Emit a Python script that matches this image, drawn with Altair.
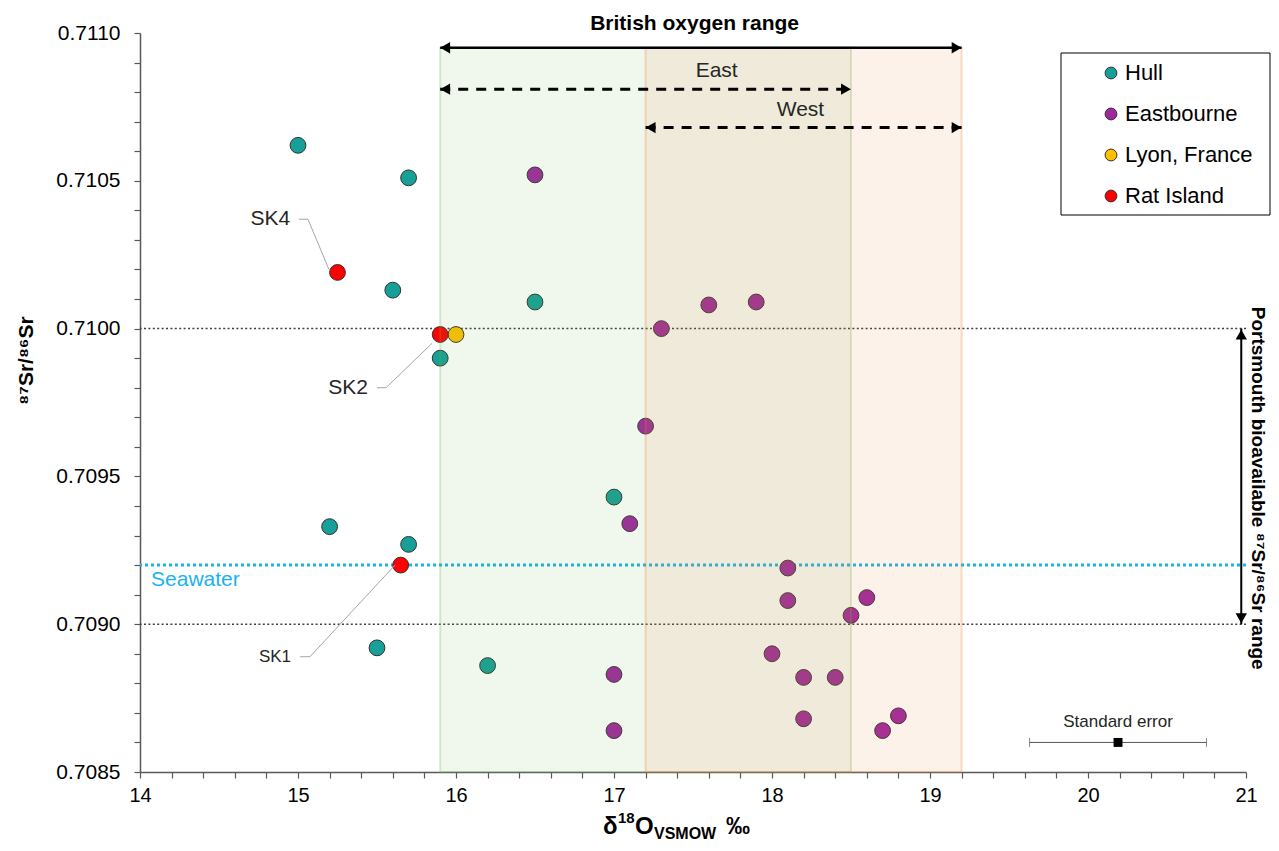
import altair as alt
import pandas as pd

FONT = "Liberation Sans"

# ---------------- data ----------------
groups = ["Hull", "Eastbourne", "Lyon, France", "Rat Island"]
colors = ["#17A097", "#A0279F", "#FFC000", "#FF0000"]

hull_x = [15.0, 15.7, 15.6, 16.5, 15.9, 15.2, 15.7, 15.5, 16.2, 17.0]
hull_y = [0.71062, 0.71051, 0.71013, 0.71009, 0.70990, 0.70933, 0.70927, 0.70892, 0.70886, 0.70943]

east_x = [16.5, 17.6, 17.9, 17.3, 17.2, 17.1, 18.1, 18.1, 18.6, 18.5, 18.0, 17.0, 18.2, 18.4, 18.2, 18.8, 18.7, 17.0]
east_y = [0.71052, 0.71008, 0.71009, 0.71000, 0.70967, 0.70934, 0.70919, 0.70908, 0.70909, 0.70903,
          0.70890, 0.70883, 0.70882, 0.70882, 0.70868, 0.70869, 0.70864, 0.70864]

lyon_x = [16.0]
lyon_y = [0.70998]

rat_x = [15.25, 15.9, 15.65]
rat_y = [0.71019, 0.70998, 0.70920]

# ranges
east_range = [15.9, 18.5]
west_range = [17.2, 19.2]
british_range = [15.9, 19.2]
band_top = 0.71095
portsmouth_range = [0.7090, 0.7100]
portsmouth_x = 20.97
seawater = 0.7092

# arrows (y positions)
british_y = 0.71095
east_y_arrow = 0.71081
west_y_arrow = 0.71068

# standard error
se_x = 20.19
se_half = 0.56
se_y = 0.70860

# annotation labels
sk_labels = ["SK4", "SK2", "SK1"]
sk_label_x = [14.95, 15.443, 14.956]
sk_label_y = [0.71037, 0.70980, 0.70889]
sk_leader_x = [[15.006, 15.063, 15.196], [15.50, 15.557, 15.848], [15.013, 15.076, 15.614]]
sk_leader_y = [[0.71037, 0.71037, 0.71020], [0.70980, 0.70980, 0.70995], [0.70889, 0.70889, 0.70920]]

xtick_vals = [round(14 + 0.2 * i, 1) for i in range(36)]
ytick_vals = [round(0.7085 + 0.0001 * i, 4) for i in range(26)]

# ---------------- chart ----------------
W, H = 1106, 739
xscale = alt.Scale(domain=[14, 21], nice=False, zero=False)
yscale = alt.Scale(domain=[0.7085, 0.7110], nice=False, zero=False)

x_axis = alt.Axis(
    values=xtick_vals,
    labelExpr="abs(datum.value - round(datum.value)) < 0.001 ? format(datum.value, 'd') : ''",
    title=None, grid=False, domainColor="#595959", domainWidth=1.5, tickColor="#595959",
    tickWidth=1.2, tickSize=6, labelFontSize=20, labelFont=FONT, labelColor="#000000",
    labelPadding=7, labelFlush=False, labelOverlap=False)
y_axis = alt.Axis(
    values=ytick_vals,
    labelExpr="abs(datum.value * 2000 - round(datum.value * 2000)) < 0.01 ? format(datum.value, '.4f') : ''",
    title="⁸⁷Sr/⁸⁶Sr", titleFont=FONT, titleFontSize=21, titleFontWeight="bold", titleColor="#000000",
    titlePadding=19, titleY=327, grid=False, domainColor="#595959", domainWidth=1.5, tickColor="#595959",
    tickWidth=1.2, tickSize=6, labelFontSize=21, labelFont=FONT, labelColor="#000000",
    labelPadding=14, labelFlush=False, labelOverlap=False)


def X(f="x"):
    return alt.X(f"{f}:Q", scale=xscale, axis=x_axis)


def Y(f="y"):
    return alt.Y(f"{f}:Q", scale=yscale, axis=y_axis)


rows = []
for g, gx, gy in zip(groups, [hull_x, east_x, lyon_x, rat_x], [hull_y, east_y, lyon_y, rat_y]):
    for a, b in zip(gx, gy):
        rows.append({"x": a, "y": b, "site": g})
pts = pd.DataFrame(rows)

one = alt.Data(values=[{}])

# reference lines
port_lines = alt.Chart(pd.DataFrame({"y": portsmouth_range})).mark_rule(
    color="#404040", strokeDash=[2, 2.4], strokeWidth=1.5).encode(y=Y())
sea_line = alt.Chart(pd.DataFrame({"y": [seawater]})).mark_rule(
    color="#1AB2F0", strokeDash=[3, 3], strokeWidth=3).encode(y=Y())

# points
points = alt.Chart(pts).mark_circle(size=250, opacity=1, stroke="#333333", strokeWidth=1).encode(
    x=X(), y=Y(),
    color=alt.Color("site:N", scale=alt.Scale(domain=groups, range=colors), legend=alt.Legend(
        title=None, orient="none", legendX=960, legendY=29, symbolType="circle", symbolSize=140,
        symbolStrokeColor="#333333", symbolStrokeWidth=1, symbolOpacity=1, labelFontSize=22,
        labelFont=FONT, labelColor="#000000", rowPadding=19, labelOffset=3, padding=0)),
)

# shaded oxygen bands (drawn over points, translucent)
band_east = alt.Chart(pd.DataFrame({"x": [east_range[0]], "x2": [east_range[1]],
                                    "y": [0.7085], "y2": [band_top]})).mark_rect(
    fill="#70AD47", fillOpacity=0.1, stroke="#70AD47", strokeOpacity=0.25, strokeWidth=2).encode(
    x=X(), x2="x2:Q", y=Y(), y2="y2:Q")
band_west = alt.Chart(pd.DataFrame({"x": [west_range[0]], "x2": [west_range[1]],
                                    "y": [0.7085], "y2": [band_top]})).mark_rect(
    fill="#ED7D31", fillOpacity=0.1, stroke="#ED7D31", strokeOpacity=0.25, strokeWidth=2).encode(
    x=X(), x2="x2:Q", y=Y(), y2="y2:Q")

# horizontal arrows
solid_df = pd.DataFrame({"x": [british_range[0]], "x2": [british_range[1]], "y": [british_y]})
dash_df = pd.DataFrame({"x": [east_range[0], west_range[0]], "x2": [east_range[1], west_range[1]],
                        "y": [east_y_arrow, west_y_arrow]})
solid_line = alt.Chart(solid_df).mark_rule(color="black", strokeWidth=2.5).encode(x=X(), x2="x2:Q", y=Y())
dash_line = alt.Chart(dash_df).mark_rule(color="black", strokeWidth=3, strokeDash=[10, 8]).encode(
    x=X(), x2="x2:Q", y=Y())
heads_df = pd.concat([solid_df, dash_df], ignore_index=True)
left_heads = alt.Chart(heads_df).mark_point(shape="triangle-left", filled=True, color="black",
                                            opacity=1, size=130, xOffset=5).encode(x=X(), y=Y())
right_heads = alt.Chart(heads_df).mark_point(shape="triangle-right", filled=True, color="black",
                                             opacity=1, size=130, xOffset=-5).encode(x=X("x2"), y=Y())

# vertical Portsmouth arrow
port_df = pd.DataFrame({"x": [portsmouth_x], "y": [portsmouth_range[0]], "y2": [portsmouth_range[1]]})
port_line = alt.Chart(port_df).mark_rule(color="black", strokeWidth=2).encode(x=X(), y=Y(), y2="y2:Q")
port_up = alt.Chart(port_df).mark_point(shape="triangle-up", filled=True, color="black", opacity=1,
                                        size=130, yOffset=6).encode(x=X(), y=Y("y2"))
port_down = alt.Chart(port_df).mark_point(shape="triangle-down", filled=True, color="black", opacity=1,
                                          size=130, yOffset=-6).encode(x=X(), y=Y())

# standard error marker
se_df = pd.DataFrame({"x": [se_x], "lo": [se_x - se_half], "hi": [se_x + se_half], "y": [se_y]})
se_bar = alt.Chart(se_df).mark_rule(color="#595959", strokeWidth=1).encode(x=X("lo"), x2="hi:Q", y=Y())
se_caps = alt.Chart(pd.DataFrame({"x": [se_x - se_half, se_x + se_half], "y": [se_y, se_y]})).mark_tick(
    orient="vertical", color="#595959", size=9, thickness=1).encode(x=X(), y=Y())
se_sq = alt.Chart(se_df).mark_square(color="black", size=80, opacity=1).encode(x=X(), y=Y())

# leader lines
lead_rows = []
for lab, lx, ly in zip(sk_labels, sk_leader_x, sk_leader_y):
    for i, (a, b) in enumerate(zip(lx, ly)):
        lead_rows.append({"lab": lab, "x": a, "y": b, "o": i})
leaders = alt.Chart(pd.DataFrame(lead_rows)).mark_line(color="#A6A6A6", strokeWidth=1).encode(
    x=X(), y=Y(), detail="lab:N", order="o:Q")


def text_at(t, x, y, **kw):
    return alt.Chart(alt.Data(values=[{"x": x, "y": y, "t": t}])).mark_text(font=FONT, **kw).encode(
        x=X(), y=Y(), text="t:N")


texts = [
    text_at("British oxygen range", 17.51, 0.71103, fontSize=21, fontWeight="bold", color="black"),
    text_at("East", 17.65, 0.71087, fontSize=21, color="#262626"),
    text_at("West", 18.18, 0.71074, fontSize=21, color="#262626"),
    text_at("Seawater", 14.07, 0.70915, fontSize=21, color="#1AB2F0", align="left"),
    text_at("Standard error", se_x, 0.70867, fontSize=17, color="#262626"),
    text_at(sk_labels[0], sk_label_x[0], sk_label_y[0], fontSize=21, color="#262626", align="right"),
    text_at(sk_labels[1], sk_label_x[1], sk_label_y[1], fontSize=21, color="#262626", align="right"),
    text_at(sk_labels[2], sk_label_x[2], sk_label_y[2], fontSize=17, color="#262626", align="right"),
    text_at("Portsmouth bioavailable ⁸⁷Sr/⁸⁶Sr range", 21.075, 0.70946, fontSize=19,
            fontWeight="bold", color="black", angle=90),
]


# x-axis title pieces (δ18O with subscript VSMOW)
def piece(t, px, py, size):
    return alt.Chart(one).mark_text(font=FONT, fontSize=size, fontWeight="bold", color="black",
                                    align="left", baseline="alphabetic").encode(
        x=alt.value(px), y=alt.value(py), text=alt.value(t))


xtitle = [
    piece("δ", 463, 801, 24),
    piece("18", 478, 790, 15),
    piece("O", 495, 801, 24),
    piece("VSMOW", 514, 806, 16),
    piece("‰", 586, 801, 24),
]

legend_box = alt.Chart(one).mark_rect(fill="white", stroke="black", strokeWidth=1).encode(
    x=alt.value(921), x2=alt.value(1130), y=alt.value(20), y2=alt.value(182))

chart = alt.layer(
    legend_box, port_lines, sea_line, points, band_east, band_west,
    solid_line, dash_line, left_heads, right_heads,
    port_line, port_up, port_down, se_bar, se_caps, se_sq, leaders,
    *texts, *xtitle
).properties(
    width=W, height=H,
    autosize=alt.AutoSizeParams(type="none"),
    padding={"left": 132, "top": 25, "right": 25, "bottom": 71},
).configure_view(stroke=None).configure_text(font=FONT)

chart.save("out.html", embed_options={"renderer": "svg", "actions": False})
